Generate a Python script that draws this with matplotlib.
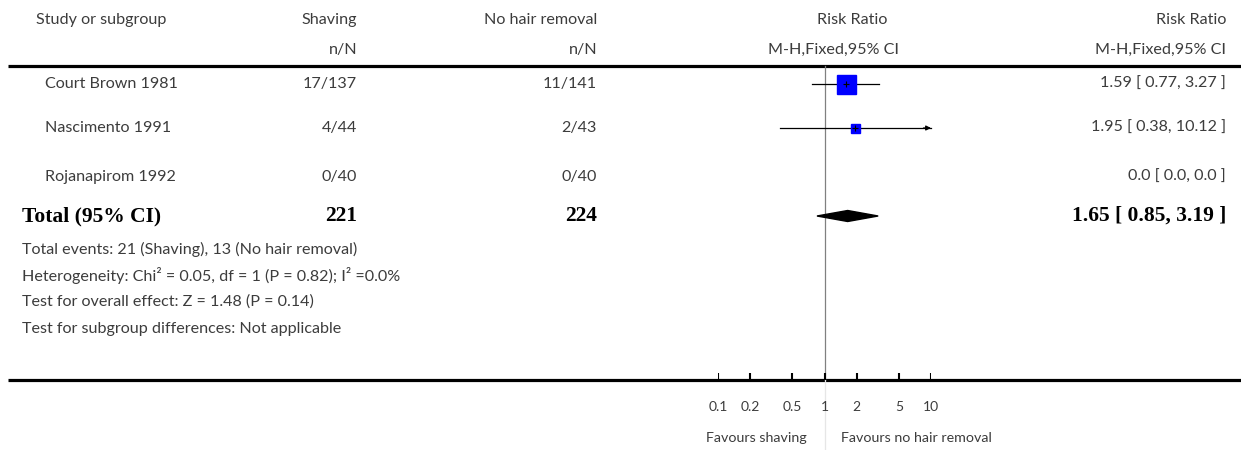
import numpy as np
import matplotlib
matplotlib.use("Agg")
import matplotlib.pyplot as plt
from matplotlib.patches import Polygon

# dados do forest plot
estudos = ["Court Brown 1981", "Nascimento 1991", "Rojanapirom 1992"]
shaving = ["17/137", "4/44", "0/40"]
sem_remocao = ["11/141", "2/43", "0/40"]
rr = [1.59, 1.95, 0.0]
ic_inf = [0.77, 0.38, 0.0]
ic_sup = [3.27, 10.12, 0.0]
tam_quadrado = [19, 9, 0]      # lado do quadrado (px), proporcional ao peso

total_shaving = "221"
total_sem = "224"
rr_total, inf_total, sup_total = 1.65, 0.85, 3.19

rodape = [
    "Total events: 21 (Shaving), 13 (No hair removal)",
    "Heterogeneity: Chi² = 0.05, df = 1 (P = 0.82); I² =0.0%",
    "Test for overall effect: Z = 1.48 (P = 0.14)",
    "Test for subgroup differences: Not applicable",
]

ticks = [0.1, 0.2, 0.5, 1, 2, 5, 10]
tick_labels = ["0.1", "0.2", "0.5", "1", "2", "5", "10"]

W, H = 1241, 450
fonte = "Lato"
cinza = "#3c3c3c"

fig = plt.figure(figsize=(W / 100, H / 100), dpi=100)

# eixo de texto em coordenadas de pixel
ax = fig.add_axes([0, 0, 1, 1])
ax.set_xlim(0, W)
ax.set_ylim(H, 0)
ax.axis("off")

# eixo do gráfico (escala log, 0.1 a 10)
axf = fig.add_axes([718 / W, 0, 213 / W, 1])
axf.set_xscale("log")
axf.set_xlim(0.1, 10)
axf.set_ylim(H, 0)
axf.axis("off")

kw = dict(family=fonte, fontsize=11.6, color=cinza, va="center")

# cabeçalho
y_h1, y_h2 = 20, 50
ax.text(36, y_h1, "Study or subgroup", ha="left", **kw)
ax.text(357, y_h1, "Shaving", ha="right", **kw)
ax.text(597, y_h1, "No hair removal", ha="right", **kw)
ax.text(852, y_h1, "Risk Ratio", ha="center", **kw)
ax.text(1226, y_h1, "Risk Ratio", ha="right", **kw)
ax.text(357, y_h2, "n/N", ha="right", **kw)
ax.text(597, y_h2, "n/N", ha="right", **kw)
ax.text(833, y_h2, "M-H,Fixed,95% CI", ha="center", **kw)
ax.text(1226, y_h2, "M-H,Fixed,95% CI", ha="right", **kw)

# linhas horizontais grossas
ax.plot([8, W], [66, 66], color="black", lw=2.3, solid_capstyle="butt")
ax.plot([8, W], [380, 380], color="black", lw=2.3, solid_capstyle="butt")

# linha de efeito nulo
axf.plot([1, 1], [66, 380], color="#808080", lw=0.9)
axf.plot([1, 1], [380, 450], color="#e6e6e6", lw=0.9)

# estudos
y_linhas = [84, 128, 177]
for i, y in enumerate(y_linhas):
    ax.text(45, y, estudos[i], ha="left", **kw)
    ax.text(357, y, shaving[i], ha="right", **kw)
    ax.text(597, y, sem_remocao[i], ha="right", **kw)
    ax.text(1226, y, f"{rr[i]} [ {ic_inf[i]}, {ic_sup[i]} ]", ha="right", **kw)
    if rr[i] <= 0:
        continue
    lo = max(ic_inf[i], 0.1)
    hi = min(ic_sup[i], 10)
    axf.plot([lo, hi], [y, y], color="black", lw=0.9, zorder=2, clip_on=False)
    if ic_sup[i] > 10:
        axf.annotate("", xy=(10, y), xytext=(8.5, y),
                     arrowprops=dict(arrowstyle="-|>", color="black", lw=0.9,
                                     mutation_scale=7, shrinkA=0, shrinkB=0))
    axf.plot(rr[i], y, marker="s", ms=tam_quadrado[i] * 0.72, color="#0000ff",
             mec="#0000ff", zorder=3, clip_on=False)
    axf.plot(rr[i], y, marker="+", ms=4, color="black", mew=0.8, zorder=4)

# total
y_tot = 216
kwb = dict(family="Liberation Serif", fontsize=15.5, weight="bold",
           color="black", va="center")
ax.text(22, y_tot, "Total (95% CI)", ha="left", **kwb)
ax.text(357, y_tot, total_shaving, ha="right", **kwb)
ax.text(597, y_tot, total_sem, ha="right", **kwb)
ax.text(1226, y_tot, f"{rr_total} [ {inf_total}, {sup_total} ]", ha="right", **kwb)
diamante = Polygon([[inf_total, y_tot], [rr_total, y_tot - 5.5],
                    [sup_total, y_tot], [rr_total, y_tot + 5.5]],
                   closed=True, color="black", zorder=3)
axf.add_patch(diamante)

# rodapé
for j, txt in enumerate(rodape):
    ax.text(22, 249 + j * 26.5, txt, ha="left", **kw)

# ticks do eixo
for t, lab in zip(ticks, tick_labels):
    axf.plot([t, t], [373, 380], color="black", lw=1.5, solid_capstyle="butt")
    axf.text(t, 407, lab, ha="center", va="center", family=fonte,
             fontsize=10, color=cinza)

ax.text(807, 438, "Favours shaving", ha="right", va="center", family=fonte,
        fontsize=10.3, color=cinza)
ax.text(841, 438, "Favours no hair removal", ha="left", va="center",
        family=fonte, fontsize=10.3, color=cinza)

fig.savefig("out.png", dpi=100)
